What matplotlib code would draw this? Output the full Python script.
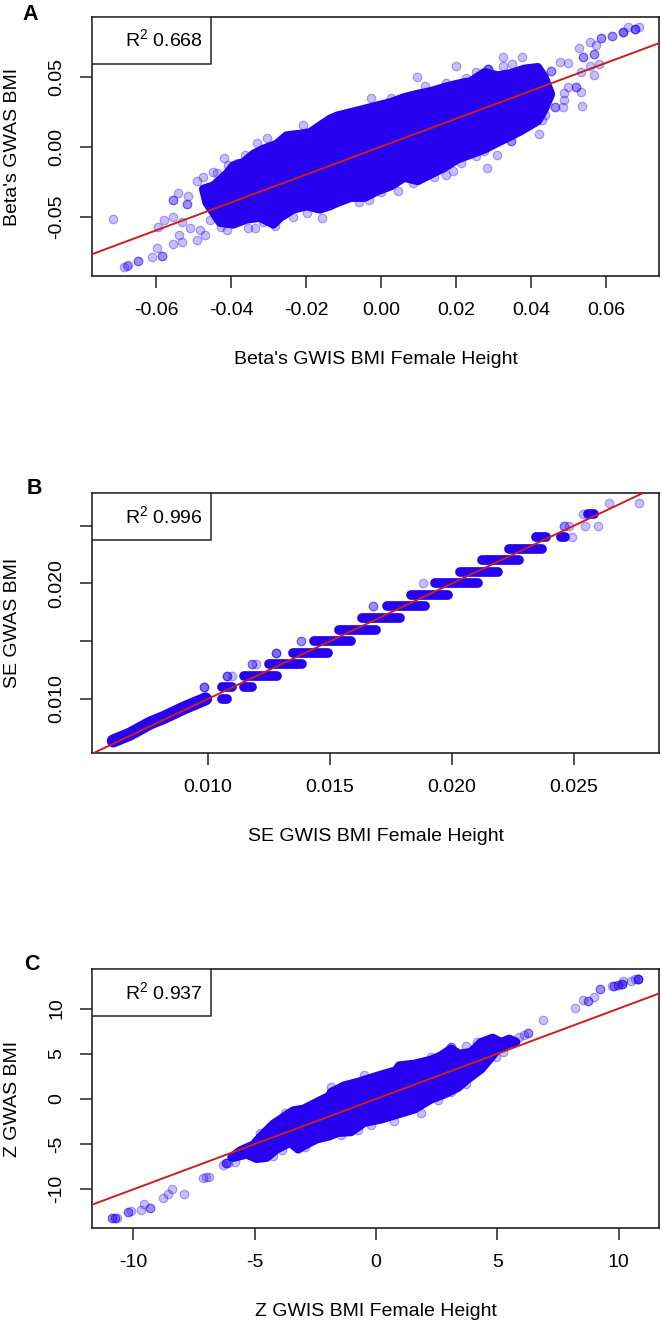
import matplotlib
matplotlib.use('Agg')
import matplotlib.pyplot as plt
from matplotlib.patches import Rectangle

plt.rcParams['font.family'] = ['Liberation Sans', 'DejaVu Sans']
plt.rcParams['mathtext.fontset'] = 'custom'
plt.rcParams['mathtext.rm'] = 'Liberation Sans'

DENSE = '#2800F0'
LINE_RED = '#C8201E'
FACE = (0.12, 0.0, 0.94, 0.25)
EDGE = (0.12, 0.0, 0.94, 0.35)
FONT = 14

# Panel A: outline of the dense cloud, then the points that can be told apart
a_edge_x = [-.0474, -.0447, -.0412, -.0394, -.0367, -.0340, -.0314, -.0278, -.0252, -.0216, -.0189, -.0163, -.0136,
            -.0116, -.0080, -.0044, -.0009, .0027, .0062, .0098, .0133, .0169, .0204, .0240, .0276, .0311, .0347,
            .0382, .0418, .0436,
            .0453, .0436, .0418, .0373, .0338, .0311, .0276, .0240, .0204, .0169, .0133, .0098, .0062, .0027, -.0009,
            -.0044, -.0080, -.0116, -.0136, -.0163, -.0198, -.0234, -.0269, -.0287, -.0323, -.0358, -.0394, -.0429,
            -.0447, -.0465]
a_edge_y = [-.0302, -.0279, -.0195, -.0136, -.0112, -.0052, -.0017, .0019, .0079, .0090, .0102, .0150, .0198,
            .0221, .0245, .0269, .0293, .0317, .0352, .0376, .0395, .0424, .0448, .0467, .0531, .0507, .0524,
            .0555, .0567, .0495,
            .0374, .0267, .0183, .0112, .0064, .0029, -.0019, -.0055, -.0090, -.0150, -.0198, -.0245, -.0221, -.0281,
            -.0317, -.0364, -.0364, -.0400, -.0424, -.0448, -.0424, -.0448, -.0507, -.0555, -.0507, -.0519, -.0555,
            -.0543, -.0471, -.0400]
a_x = [-.0716, -.0685, -.0674, -.0678, -.0647, -.0647, -.0612, -.0598, -.0585, -.0585, -.0594, -.0579, -.0556, -.0554,
       -.0532, -.0540, -.0492, -.0469, -.0554, -.0554, -.0542, -.0518, -.0518, -.0492, -.0474, -.0447, -.0420, -.0407,
       -.0532, -.0509, -.0482, -.0456, -.0514, -.0356, -.0336, -.0158, -.0305, -.0332, -.0209, -.0428, -.0283,
       .0095, .0201, .0324, .0377, .0349, .0324, .0253, .0284, .0284, .0284, .0046, .0282, .0191, .0172, .0347, .0347,
       .0420, .0309, .0253, .0274, .0535, .0520, .0520, .0532, .0489, .0464, .0464, .0484, .0428, .0453, .0453, .0476,
       .0498, .0529, .0556, .0573, .0538, .0538, .0569, .0569, .0587, .0587, .0616, .0616, .0644, .0644, .0644, .0658,
       .0676, .0676, .0676, .0689, .0582, .0556, .0567, .0533, .0498, -.0027, .0116, .0173, .0227, .0027, -.0058,
       -.0031, .0, .0084, .0142,
       -.0363, -.0385, -.0438, -.0412, -.0314, -.0234, -.0198, .0213, .0489, .0409, .0436]
a_y = [-.0519, -.0857, -.0845, -.0850, -.0817, -.0817, -.0786, -.0726, -.0779, -.0779, -.0571, -.0524, -.0500, -.0698,
       -.0679, -.0631, -.0667, -.0631, -.0381, -.0381, -.0329, -.0410, -.0410, -.0245, -.0214, -.0179, -.0083, -.0131,
       -.0536, -.0583, -.0595, -.0524, -.0350, -.0583, -.0583, -.0507, .0060, .0024, .0152, -.0571, -.0567,
       .0500, .0579, .0638, .0638, .0590, .0576, .0533, .0552, .0552, .0552, -.0319, -.0150, -.0171, -.0202, .0043, .0043,
       .0093, -.0060, -.0067, -.0031, .0288, .0424, .0424, .0388, .0381, .0286, .0286, .0286, .0190, .0543, .0543, .0607,
       .0595, .0707, .0745, .0726, .0643, .0643, .0660, .0660, .0779, .0779, .0790, .0790, .0817, .0817, .0817, .0852,
       .0838, .0838, .0838, .0857, .0590, .0579, .0512, .0536, .0429, .0345, .0433, .0452, .0493, .0345, -.0393,
       -.0381, -.0321, -.0262, -.0214,
       -.0060, -.0119, -.0190, -.0595, -.0536, -.0500, -.0476, -.0119, .0333, .0190, .0226]

# Panel B: GWAS SE is rounded, so the points sit in runs on each level
b_low_x = [.00612, .0068, .00762, .0082, .00899, .0099]
b_low_y = [.00636, .00695, .0079, .0084, .00919, .0100]
b_run_y = [.010, .011, .011, .012, .013, .014, .015, .016, .017, .018, .019, .020, .021, .022, .023, .024, .024, .026]
b_run_start = [.01056, .01056, .01149, .01149, .01249, .01347, .01436, .01536, .01631, .01734, .01831, .01932, .02031,
               .02124, .02232, .02342, .02445, .02556]
b_run_end = [.01078, .0110, .01182, .01284, .01384, .01492, .01586, .01687, .01787, .01889, .01985, .02108, .02187,
             .02276, .02368, .02385, .02464, .02583]
b_x = [.00984, .00984, .00984, .01078, .01078, .01078, .01100, .01179, .01179, .01197, .01277, .01277, .01277, .0138, .0138,
       .01675, .01675, .01882, .0249, .0246, .0246, .0248, .02545, .026, .02538, .02642, .02764]
b_y = [.011, .011, .011, .012, .012, .012, .012, .013, .013, .013, .014, .014, .014, .015, .015,
       .018, .018, .020, .024, .025, .025, .025, .025, .025, .026, .027, .027]

# Panel C
c_edge_x = [-5.95, -5.60, -5.05, -4.78, -4.51, -4.23, -3.82, -3.41, -2.99, -2.45, -1.90, -1.85, -1.30, -.76, -.21, .34,
            .82, .96, 1.58, 2.27, 2.68, 3.09, 3.43, 3.91, 4.33, 4.81, 5.15, 5.49, 5.77,
            5.43, 5.01, 4.74, 4.33, 3.78, 3.37, 2.82, 2.27, 1.58, .89, .21, -.48, -1.03, -1.58, -1.90, -2.45, -2.99,
            -3.20, -3.54, -4.09, -4.51, -4.92, -5.33, -5.88]
c_edge_y = [-6.46, -5.72, -5.06, -4.24, -3.51, -2.77, -2.03, -1.29, -1.11, -.37, .37, .74, 1.48, 1.85, 2.32, 2.77,
            3.14, 3.69, 3.87, 4.32, 4.80, 5.54, 4.98, 5.17, 6.27, 6.75, 6.27, 6.64, 6.31,
            6.05, 5.50, 4.58, 3.28, 2.18, 1.25, .52, -.04, -1.14, -1.70, -2.25, -2.62, -3.65, -3.73, -4.10, -4.46, -5.20,
            -5.57, -4.83, -5.57, -6.49, -6.61, -6.13, -6.49]
c_x = [-10.89, -10.89, -10.76, -10.76, -10.66, -10.21, -10.21, -10.10, -9.70, -9.55, -9.29, -9.29, -8.76, -8.56, -8.42,
       -7.91, -7.12, -7.01, -6.87, -6.32, -6.18, -6.18, -6.18, -6.09, -5.81,
       6.90, 8.21, 8.52, 8.72, 8.72, 9.0, 9.24, 9.24, 9.71, 9.79, 9.79, 9.96, 9.96, 10.12, 10.12, 10.12, 10.16, 10.51, 10.67,
       10.78, 10.78, 10.78, 10.78, 6.25, 6.25, 6.09, 5.91, 3.71, 4.15, 3.09, 3.09, 4.95, 5.22,
       3.71, 3.09, 2.54, 1.85, .76, -.21, -.76, -1.44, -1.85, -.48, 2.27, -3.89, -4.23, -2.93, -3.75, -4.78]
c_y = [-13.21, -13.21, -13.14, -13.14, -13.14, -12.55, -12.55, -12.36, -12.29, -11.62, -12.10, -12.10, -10.92, -10.55,
       -10.00, -10.48, -8.78, -8.60, -8.60, -7.31, -7.12, -7.12, -7.12, -7.12, -7.01,
       8.71, 10.04, 10.96, 10.85, 10.85, 11.29, 12.21, 12.21, 12.51, 12.44, 12.44, 12.58, 12.58, 12.73, 12.73, 12.73, 13.06,
       13.10, 13.32, 13.25, 13.25, 13.25, 13.25, 7.34, 7.34, 7.08, 6.83, 5.87, 6.27, 5.79, 5.79, 4.61, 5.24,
       1.62, .81, -.11, -1.59, -2.40, -2.88, -3.43, -3.99, 1.37, 2.66, 4.69, -5.65, -6.31, -5.28, -1.59, -3.80]

a_xticks = [-.06, -.04, -.02, 0, .02, .04, .06]
a_xlabels = ['-0.06', '-0.04', '-0.02', '0.00', '0.02', '0.04', '0.06']
a_yticks = [-.05, 0, .05]
a_ylabels = ['-0.05', '0.00', '0.05']
b_xticks = [.010, .015, .020, .025]
b_xlabels = ['0.010', '0.015', '0.020', '0.025']
b_yticks = [.010, .015, .020, .025]
b_ylabels = ['0.010', '', '0.020', '']
c_xticks = [-10, -5, 0, 5, 10]
c_xlabels = ['-10', '-5', '0', '5', '10']
c_yticks = [-10, -5, 0, 5, 10]
c_ylabels = ['-10', '-5', '0', '5', '10']


def setup_panel(top, bottom, xlim, ylim, xticks, xlabels, yticks, ylabels, xlabel, ylabel, r2, slope):
    ax = fig.add_axes([92 / 662, 1 - bottom / 1324, 567 / 662, (bottom - top) / 1324])
    ax.set_xlim(xlim)
    ax.set_ylim(ylim)
    ax.set_xticks(xticks, xlabels, fontsize=FONT)
    ax.set_yticks(yticks, ylabels, fontsize=FONT, rotation=90, va='center')
    ax.tick_params(axis='x', length=8.4, width=1.1, pad=10.5, color='#222222')
    ax.tick_params(axis='y', length=8.4, width=1.1, pad=11, color='#222222')
    for sp in ax.spines.values():
        sp.set_linewidth(1.2)
        sp.set_color('#222222')
    ax.set_xlabel(xlabel, fontsize=FONT, va='center')
    ax.set_ylabel(ylabel, fontsize=FONT, va='center')
    ax.xaxis.set_label_coords(0.5, -83.5 / (bottom - top))
    ax.yaxis.set_label_coords(-79 / 567, 0.5)
    ax.axline((0, 0), slope=slope, color=LINE_RED, lw=1.4, zorder=5)
    # R2 box in the top left corner
    box_h = 46.5 / (bottom - top)
    ax.add_patch(Rectangle((0, 1 - box_h), 119 / 567, box_h, transform=ax.transAxes, fc='white', ec='#222222',
                           lw=1.1, zorder=6))
    ax.text(72 / 567, 1 - box_h / 2, 'R$^2$ ' + r2, transform=ax.transAxes, ha='center', va='center',
            fontsize=FONT, zorder=7)
    return ax


def draw_cloud(ax, edge_x, edge_y, xs, ys):
    # the stroke rounds the outline out by one marker radius
    ax.fill(edge_x, edge_y, facecolor=DENSE, edgecolor=DENSE, lw=6.2, joinstyle='round', zorder=2)
    ax.scatter(xs, ys, s=38, facecolor=FACE, edgecolor=EDGE, linewidths=0.8, zorder=3)


fig = plt.figure(figsize=(6.62, 13.24), dpi=100)

ax_a = setup_panel(17, 276, (-.07707, .07413), (-.0924, .0926), a_xticks, a_xlabels, a_yticks, a_ylabels,
                   "Beta's GWIS BMI Female Height", "Beta's GWAS BMI", '0.668', 0.997)
draw_cloud(ax_a, a_edge_x, a_edge_y, a_x, a_y)

ax_b = setup_panel(493.3, 752.7, (.005246, .02848), (.00534, .0278), b_xticks, b_xlabels, b_yticks, b_ylabels,
                   'SE GWIS BMI Female Height', 'SE GWAS BMI', '0.996', 1.0)
ax_b.plot(b_low_x, b_low_y, color=DENSE, lw=9.4, solid_capstyle='round', solid_joinstyle='round', zorder=2)
for y, x0, x1 in zip(b_run_y, b_run_start, b_run_end):
    ax_b.plot([x0, x1], [y, y], color=DENSE, lw=7, solid_capstyle='round', zorder=2)
ax_b.scatter(b_x, b_y, s=38, facecolor=FACE, edgecolor=EDGE, linewidths=0.8, zorder=3)

ax_c = setup_panel(969.3, 1227.7, (-11.70, 11.66), (-14.24, 14.34), c_xticks, c_xlabels, c_yticks, c_ylabels,
                   'Z GWIS BMI Female Height', 'Z GWAS BMI', '0.937', 1.0)
draw_cloud(ax_c, c_edge_x, c_edge_y, c_x, c_y)

for letter, px, py in [('A', 30, 14), ('B', 34, 488), ('C', 32, 964)]:
    fig.text(px / 662, 1 - py / 1324, letter, fontsize=15.5, fontweight='bold', ha='center', va='center')

fig.savefig('out.png', dpi=100)
